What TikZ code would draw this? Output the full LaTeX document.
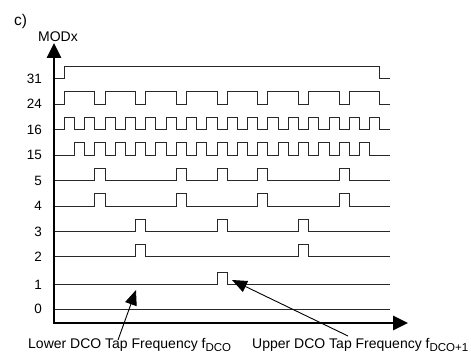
\documentclass[tikz,border=0pt]{standalone}
\usepackage{fontspec}
\setmainfont{Liberation Sans}
\usetikzlibrary{arrows.meta,positioning,calc}
\definecolor{waveGray}{RGB}{40,40,40}
\newcommand{\fsub}[1]{\raisebox{-3.2pt}{\fontsize{11.5}{13}\selectfont #1}}

\begin{document}
\begin{tikzpicture}[
    x=1pt, y=-1pt,
    wave/.style={draw=waveGray, line width=0.9pt},
    axis/.style={draw=black, line width=2.6pt, line cap=rect,
        -{Triangle[length=15pt,width=14pt]}},
    lvl/.style={anchor=east, inner sep=0pt, font=\fontsize{13.5}{15}\selectfont},
    note/.style={anchor=base west, inner sep=0pt, font=\fontsize{14}{16}\selectfont},
    pointer/.style={-{Triangle[length=15pt,width=12pt]}, line width=0.9pt, draw=black}
]
    \useasboundingbox (0,0) rectangle (471,353);

    % Panel tag
    \node [inner sep=0pt, font=\fontsize{15.5}{17}\selectfont] (tag) at (20.5,21) {c)};

    % Axes
    \coordinate (orig) at (54,323);
    \coordinate (ytip) at (54,43);
    \coordinate (xtip) at (408,323);
    \draw [axis] (orig) -- (ytip);
    \draw [axis] (orig) -- (xtip);
    \node [inner sep=0pt, font=\fontsize{14}{16}\selectfont, above=1pt of ytip, xshift=4pt] (ylab) {MODx};

    % Modulation patterns, one row per MODx value (runs of high slots)
    \foreach \lvl/\yy/\runs in {
        31/78.5/{0/31},
        24/104/{0/3,4/7,8/11,12/15,16/19,20/23,24/27,28/31},
        16/129.5/{0/1,2/3,4/5,6/7,8/9,10/11,12/13,14/15,16/17,18/19,20/21,22/23,24/25,26/27,28/29,30/31},
        15/155/{1/2,3/4,5/6,7/8,9/10,11/12,13/14,15/16,17/18,19/20,21/22,23/24,25/26,27/28,29/30},
        5/180.5/{3/4,11/12,15/16,19/20,27/28},
        4/206/{3/4,11/12,19/20,27/28},
        3/231.5/{7/8,15/16,23/24},
        2/256.5/{7/8,23/24},
        1/284.5/{15/16}} {
        \node [lvl] (mod\lvl) at (42,\yy) {\lvl};
        \draw [wave] (55,\yy) foreach \a/\b in \runs {
            -- (64.3+10.18*\a, \yy) -- ++(0,-12.5) -- (64.3+10.18*\b, \yy-12.5) -- ++(0,12.5)
        } -- (390,\yy);
    }
    \node [lvl] (mod0) at (42,309) {0};
    \draw [wave] (55,309) -- (390,309);

    % Tap frequency notes
    \node [note] (lowtxt) at (28,348) {Lower DCO Tap Frequency f\fsub{DCO}};
    \node [note] (uptxt) at (252,348) {Upper DCO Tap Frequency f\fsub{DCO+1}};
    \coordinate (lowtip) at (136,290);
    \coordinate (uptip) at (232,280);
    \draw [pointer] ([xshift=90pt,yshift=8pt]lowtxt.base west) -- (lowtip);
    \draw [pointer] ([xshift=96pt,yshift=12pt]uptxt.base west) -- (uptip);

\end{tikzpicture}
\end{document}
